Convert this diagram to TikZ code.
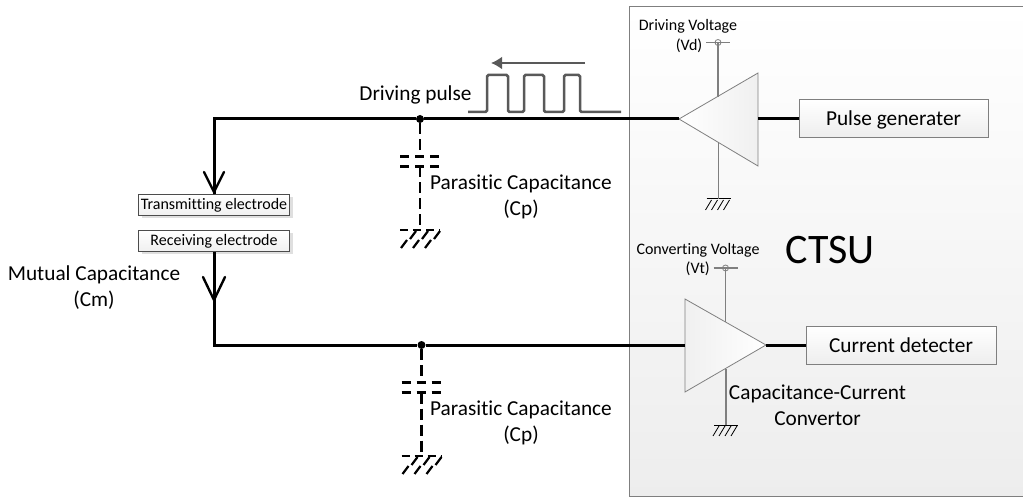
\documentclass[tikz,border=0pt]{standalone}
\usepackage{fontspec}
\setmainfont[Ligatures=NoCommon]{Carlito}
\usetikzlibrary{calc}
\usetikzlibrary{arrows.meta}
\usetikzlibrary{shadows}
\usetikzlibrary{positioning}
\definecolor{BoxEdge}{HTML}{7F7F7F}
\definecolor{PulseGray}{HTML}{595959}
\tikzset{
  wire/.style={line width=3pt,black},
  thinwire/.style={line width=1.3pt,BoxEdge},
  vee/.style={line width=2.4pt,black,line cap=round},
  dashwire/.style={line width=2.6pt,black,dash pattern=on 11pt off 5pt},
  blockbox/.style={draw=BoxEdge,line width=1pt,top color=white,bottom color=black!7,
    inner sep=0pt,text depth=3pt,text height=16.5pt,font=\fontsize{21.3}{24}\selectfont},
  elecbox/.style={draw=black!70,line width=0.8pt,top color=white,bottom color=black!6,inner sep=0pt,
    minimum width=151pt,minimum height=21pt,font=\fontsize{16}{18}\selectfont,
    drop shadow={shadow xshift=3pt,shadow yshift=-3pt,fill=black!25}},
  biglabel/.style={align=center,inner sep=0pt,font=\fontsize{21.3}{26}\selectfont},
  smalllabel/.style={align=center,inner sep=0pt,font=\fontsize{16}{18}\selectfont},
  dot/.style={circle,fill=black,inner sep=0pt,minimum size=8pt},
  earth/.pic={
    \draw[line width=1pt,black] (-12,0) -- (12,0);
    \foreach \i in {-12,-6,0,6}
      \draw[line width=0.8pt,black] (\i+5,1) -- (\i-1,11);
  },
  dashearth/.pic={
    \draw[line width=2.4pt,black,dash pattern=on 8pt off 5pt] (-20,0) -- (20,0);
    \foreach \i in {-10,2,14}
      \draw[line width=2.2pt,black] (\i+6,1) -- (\i,9);
    \foreach \i in {-19,-7,5}
      \draw[line width=2.2pt,black] (\i+6,10) -- (\i,18);
  },
  supply/.pic={
    \draw[line width=1.1pt,BoxEdge] (-12,0) -- (12,0);
    \draw[line width=0.8pt,BoxEdge] (0,0) circle (3);
  }
}
\begin{document}
\begin{tikzpicture}[x=1pt,y=-1pt]
    \useasboundingbox (0,0) rectangle (1023,497);
    % CTSU block
    \draw[draw=BoxEdge,line width=1pt,top color=white,bottom color=black!7] (629,7) rectangle (1030,496);
    \node[font=\fontsize{42}{44}\selectfont,inner sep=0pt] (ctsu) at (830,250) {CTSU};

    % corners of the two triangles
    \coordinate (A) at (679,119);
    \coordinate (B) at (758,73);
    \coordinate (C) at (758,166);
    \coordinate (D) at (685,299);
    \coordinate (E) at (685,392);
    \coordinate (F) at (766,345);
    \draw[draw=BoxEdge,line width=0.8pt,left color=white,right color=black!6] (A) -- (B) -- (C) -- cycle;
    \draw[draw=BoxEdge,line width=0.8pt,left color=black!6,right color=white] (D) -- (E) -- (F) -- cycle;

    % blocks
    \node[blockbox,minimum width=189pt,minimum height=38pt] (gen) at (893.5,119) {Pulse generater};
    \node[blockbox,minimum width=190pt,minimum height=38pt] (det) at (901,345.5) {Current detecter};
    \node[elecbox] (tx) at (214,205) {Transmitting electrode};
    \node[elecbox] (rx) at (214,241) {Receiving electrode};

    % main wires
    \coordinate (TL) at (214,119);
    \coordinate (BL) at (214,345);
    \coordinate (DM) at (685,345);
    \coordinate (CM) at (758,119);
    \node[dot] (J1) at (420,119) {};
    \node[dot] (J2) at (421.5,345) {};
    \draw[wire] (tx.north -| TL) -- (TL) -- (J1) -- (A);
    \draw[wire] (rx.south -| BL) -- (BL) -- (J2) -- (DM);
    \draw[wire] (CM) -- (gen.west);
    \draw[wire] (F) -- (det.west |- F);

    % arrows on the wire
    \coordinate (V1) at (214,192);
    \coordinate (V2) at (214,300);
    \draw[vee] (204,172) -- (V1) -- (224,172);
    \draw[vee] (203,277) -- (V2) -- (225,277);

    % supply and earth of the driver
    \pic at (718,42.5) {supply};
    \pic at (718.5,199) {earth};
    \coordinate (VdT) at (718,42.5);
    \coordinate (VdB) at (718,97);
    \coordinate (VdC) at (718.5,142);
    \coordinate (VdE) at (718.5,199);
    \draw[thinwire] (VdT) -- (VdB);
    \draw[thinwire] (VdC) -- (VdE);

    % supply and earth of the convertor
    \pic at (725.5,268) {supply};
    \pic at (726,425) {earth};
    \coordinate (VtT) at (725.5,268);
    \coordinate (VtB) at (725.5,321.5);
    \coordinate (VtC) at (726,369);
    \coordinate (VtE) at (726,425);
    \draw[thinwire] (VtT) -- (VtB);
    \draw[thinwire] (VtC) -- (VtE);

    % parasitic capacitors
    \foreach \n/\x/\y in {J1/420/119,J2/421.5/345}{
      \coordinate (P1) at (\x,\y+37.5);
      \coordinate (P2) at (\x,\y+47.5);
      \coordinate (G) at (\x,\y+111);
      \draw[dashwire] (\n) -- (P1);
      \draw[dashwire] (P2) -- (G);
      \draw[line width=2.4pt,black,dash pattern=on 9pt off 6pt on 9pt off 6pt on 9pt] (\x-20,\y+37.5) -- (\x+20,\y+37.5);
      \draw[line width=2.4pt,black,dash pattern=on 9pt off 6pt on 9pt off 6pt on 9pt] (\x-20,\y+47.5) -- (\x+20,\y+47.5);
      \pic at (G) {dashearth};
    }

    % driving pulse
    \draw[line width=2.5pt,PulseGray,rounded corners=1.5pt] (468,112) -- (487,112) -- (487,75) -- (508,75) -- (508,112)
      -- (524,112) -- (524,75) -- (544,75) -- (544,112) -- (564,112) -- (564,75) -- (580,75) -- (580,112) -- (621,112);
    \coordinate (R) at (585,63);
    \coordinate (Q) at (491,63);
    \draw[-{Latex[length=11pt,width=13pt]},line width=2.5pt,PulseGray] (R) -- (Q);

    % labels
    \node[biglabel] (pulse) at (415.5,95) {Driving pulse};
    \node[biglabel] (cp1) at (521,197) {Parasitic Capacitance\\(Cp)};
    \node[biglabel] (cp2) at (521,423) {Parasitic Capacitance\\(Cp)};
    \node[biglabel] (cm) at (94,288) {Mutual Capacitance\\(Cm)};
    \node[biglabel] (conv) at (817.5,405) {Capacitance-Current\\Convertor};
    \node[smalllabel] (vd) at (688,26) {Driving Voltage};
    \node[smalllabel,anchor=east] (vdb) at (702.5,45.5) {(Vd)};
    \node[smalllabel] (vt) at (698,250) {Converting Voltage};
    \node[smalllabel,anchor=east] (vtb) at (710,269) {(Vt)};
\end{tikzpicture}
\end{document}
